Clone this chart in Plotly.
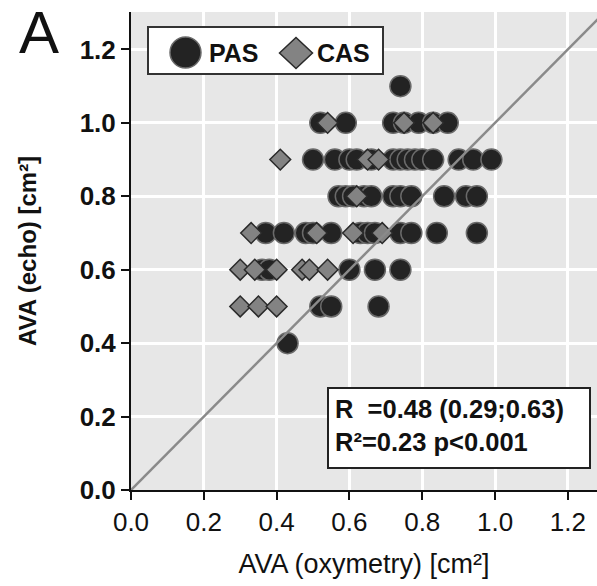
import plotly.graph_objects as go

# AVA measured by oxymetry (x) vs echocardiography (y), in cm²
pas_x = [0.74,
         0.52, 0.59, 0.72, 0.75, 0.79, 0.83, 0.87,
         0.50, 0.56, 0.60, 0.62, 0.66, 0.72, 0.74, 0.76, 0.78, 0.80, 0.83, 0.90, 0.94, 0.99,
         0.57, 0.59, 0.61, 0.64, 0.66, 0.72, 0.74, 0.77, 0.86, 0.92, 0.95,
         0.37, 0.42, 0.48, 0.50, 0.55, 0.63, 0.65, 0.67, 0.74, 0.77, 0.84, 0.95,
         0.36, 0.38, 0.60, 0.67, 0.74,
         0.52, 0.55, 0.68,
         0.43]
pas_y = [1.1,
         1.0, 1.0, 1.0, 1.0, 1.0, 1.0, 1.0,
         0.9, 0.9, 0.9, 0.9, 0.9, 0.9, 0.9, 0.9, 0.9, 0.9, 0.9, 0.9, 0.9, 0.9,
         0.8, 0.8, 0.8, 0.8, 0.8, 0.8, 0.8, 0.8, 0.8, 0.8, 0.8,
         0.7, 0.7, 0.7, 0.7, 0.7, 0.7, 0.7, 0.7, 0.7, 0.7, 0.7, 0.7,
         0.6, 0.6, 0.6, 0.6, 0.6,
         0.5, 0.5, 0.5,
         0.4]

cas_x = [0.54, 0.75, 0.83,
         0.41, 0.65, 0.68,
         0.62,
         0.33, 0.51, 0.61, 0.69,
         0.30, 0.34, 0.40, 0.47, 0.49, 0.54,
         0.30, 0.35, 0.40]
cas_y = [1.0, 1.0, 1.0,
         0.9, 0.9, 0.9,
         0.8,
         0.7, 0.7, 0.7, 0.7,
         0.6, 0.6, 0.6, 0.6, 0.6, 0.6,
         0.5, 0.5, 0.5]

tick_vals = [0.0, 0.2, 0.4, 0.6, 0.8, 1.0, 1.2]
tick_text = ["0.0", "0.2", "0.4", "0.6", "0.8", "1.0", "1.2"]
x_range = [0, 1.28]
y_range = [0, 1.302]

stats_lines = ["R\u00a0\u00a0=0.48 (0.29;0.63)", "R²=0.23 p&lt;0.001"]

W, H = 597, 586
ML, MR, MT, MB = 131, 0, 12, 96
PW, PH = W - ML - MR, H - MT - MB


def px(xp):
    return (xp - ML) / PW


def py(yp):
    return (H - MB - yp) / PH


FONT = "Arial, Liberation Sans, sans-serif"
PAS_FILL, PAS_EDGE = "#232323", "#6a6a6a"
CAS_FILL, CAS_EDGE = "#838383", "#2a2a2a"

fig = go.Figure()

# identity line y = x
lim = max(x_range[1], y_range[1])
fig.add_shape(type="line", xref="x", yref="y", x0=0, y0=0, x1=lim, y1=lim,
              line=dict(color="#8a8a8a", width=2.5), layer="above")

fig.add_trace(go.Scatter(
    x=pas_x, y=pas_y, mode="markers", name="PAS", showlegend=False,
    marker=dict(symbol="circle", size=21, color=PAS_FILL,
                line=dict(color=PAS_EDGE, width=1.5)),
    cliponaxis=False))
fig.add_trace(go.Scatter(
    x=cas_x, y=cas_y, mode="markers", name="CAS", showlegend=False,
    marker=dict(symbol="diamond", size=16, color=CAS_FILL,
                line=dict(color=CAS_EDGE, width=1.5)),
    cliponaxis=False))

shapes = []
# thin frame along the top of the plotting area
shapes.append(dict(type="line", xref="paper", yref="paper", x0=0, x1=1, y0=1, y1=1,
                   line=dict(color="#9a9a9a", width=2)))
# legend box with its keys
shapes.append(dict(type="rect", xref="paper", yref="paper",
                   x0=px(148), x1=px(383), y0=py(74), y1=py(27),
                   fillcolor="white", line=dict(color="#333333", width=2)))
shapes.append(dict(type="circle", xref="paper", yref="paper",
                   x0=px(170), x1=px(201), y0=py(68), y1=py(37),
                   fillcolor=PAS_FILL, line=dict(color=PAS_EDGE, width=1.5)))
cx, cy, hw, hh = 296, 53, 16.5, 15.5
shapes.append(dict(type="path", xref="paper", yref="paper",
                   path=(f"M {px(cx - hw)} {py(cy)} L {px(cx)} {py(cy - hh)} "
                         f"L {px(cx + hw)} {py(cy)} L {px(cx)} {py(cy + hh)} Z"),
                   fillcolor=CAS_FILL, line=dict(color=CAS_EDGE, width=1.5)))
# statistics box
shapes.append(dict(type="rect", xref="paper", yref="paper",
                   x0=px(328), x1=px(590), y0=py(468), y1=py(388),
                   fillcolor="white", line=dict(color="#222222", width=2)))

annotations = [
    dict(text="PAS", xref="paper", yref="paper", x=px(207), y=py(53),
         xanchor="left", yanchor="middle", showarrow=False,
         font=dict(family=FONT, size=25, color="#111111", weight="bold")),
    dict(text="CAS", xref="paper", yref="paper", x=px(315), y=py(53),
         xanchor="left", yanchor="middle", showarrow=False,
         font=dict(family=FONT, size=25, color="#111111", weight="bold")),
    dict(text="<br>".join(stats_lines), xref="paper", yref="paper",
         x=px(333), y=py(425), xanchor="left", yanchor="middle", align="left",
         showarrow=False,
         font=dict(family=FONT, size=25.5, color="#111111", weight="bold")),
    dict(text="A", xref="paper", yref="paper", x=px(39), y=py(33),
         xanchor="center", yanchor="middle", showarrow=False,
         font=dict(family=FONT, size=60, color="#111111")),
]

fig.update_layout(
    width=W, height=H,
    margin=dict(l=ML, r=MR, t=MT, b=MB, pad=0),
    paper_bgcolor="white", plot_bgcolor="#e7e7e7",
    shapes=shapes, annotations=annotations,
    xaxis=dict(range=x_range, tickvals=tick_vals, ticktext=tick_text,
               showgrid=True, gridcolor="white", gridwidth=3, zeroline=False,
               showline=True, linecolor="#111111", linewidth=2,
               ticks="outside", ticklen=8, tickwidth=2, tickcolor="#111111",
               tickfont=dict(family=FONT, size=26, color="#111111"),
               title=dict(text="AVA (oxymetry) [cm²]", standoff=18,
                          font=dict(family=FONT, size=27, color="#111111"))),
    yaxis=dict(range=y_range, tickvals=tick_vals, ticktext=tick_text,
               showgrid=True, gridcolor="white", gridwidth=3, zeroline=False,
               showline=True, linecolor="#111111", linewidth=2,
               ticks="outside", ticklen=8, tickwidth=2, tickcolor="#111111",
               tickfont=dict(family=FONT, size=26, color="#111111", weight="bold"),
               title=dict(text="AVA (echo) [cm²]", standoff=36,
                          font=dict(family=FONT, size=24, color="#111111", weight="bold"))),
)

fig.write_html("out.html")
